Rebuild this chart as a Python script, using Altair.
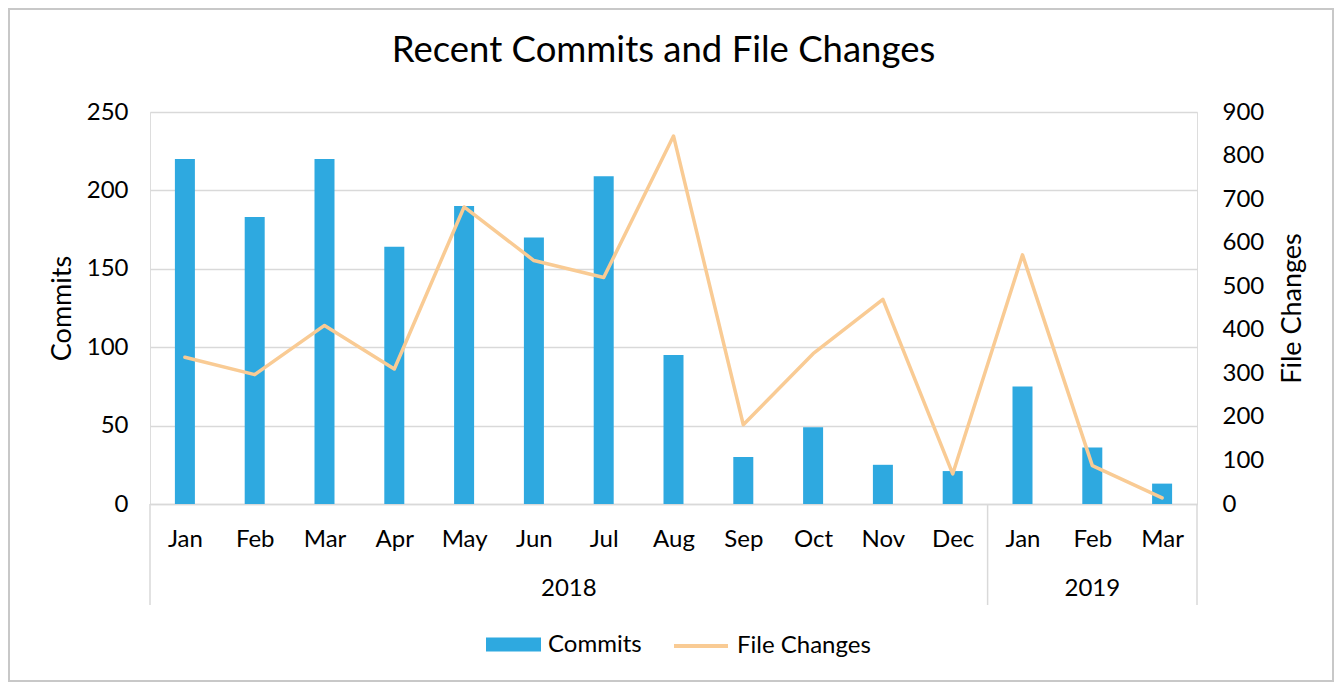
import altair as alt
import pandas as pd

# ---------------- data ----------------
months = ["Jan", "Feb", "Mar", "Apr", "May", "Jun", "Jul", "Aug", "Sep", "Oct", "Nov", "Dec", "Jan", "Feb", "Mar"]
years = ["2018"] * 12 + ["2019"] * 3
commits = [220, 183, 220, 164, 190, 170, 209, 95, 30, 49, 25, 21, 75, 36, 13]
file_changes = [337, 297, 410, 310, 682, 559, 520, 845, 182, 345, 470, 69, 572, 88, 14]
left_ticks = [0, 50, 100, 150, 200, 250]
right_ticks = [0, 100, 200, 300, 400, 500, 600, 700, 800, 900]

TITLE = "Recent Commits and File Changes"
FONT = "Lato"
BLUE = "#2EA9E0"
ORANGE = "#F9CB94"
GRID = "#D9D9D9"
FS = 24

idx = list(range(len(months)))
df = pd.DataFrame({
    "idx": idx,
    "month": months,
    "year": years,
    "Commits": commits,
    "File Changes": file_changes,
    "s1": ["Commits"] * len(months),
    "s2": ["File Changes"] * len(months),
})

# year label centres and group separators, derived from the data
yr = df.groupby("year")["idx"].agg(["min", "max", "mean"]).reset_index()
df_year = pd.DataFrame({"year": yr["year"], "idx": yr["mean"]})
seps = sorted(set([m - 0.5 for m in yr["min"]] + [m + 0.5 for m in yr["max"]]))
df_sep = pd.DataFrame({"idx": seps})

W, H = 1047, 392
label_expr = "[" + ",".join("'%s'" % m for m in months) + "][datum.value]"


def xenc():
    return alt.X(
        "idx:Q",
        scale=alt.Scale(domain=[-0.5, len(months) - 0.5], nice=False, zero=False, padding=0),
        axis=alt.Axis(
            values=idx, labelExpr=label_expr, grid=False, ticks=False,
            domain=True, domainColor=GRID, domainWidth=1.5,
            labelFont=FONT, labelFontSize=FS, labelColor="#000000",
            labelPadding=23, title=None, labelFlush=False,
        ),
    )


bars = alt.Chart(df).mark_bar(size=20).encode(
    x=xenc(),
    y=alt.Y(
        "Commits:Q",
        scale=alt.Scale(domain=[0, 250], nice=False),
        axis=alt.Axis(
            values=left_ticks, grid=True, gridColor=GRID, gridWidth=1.5,
            ticks=False, domain=False, labelFont=FONT, labelFontSize=FS,
            labelColor="#000000", labelPadding=22, title="Commits",
            titleFont=FONT, titleFontSize=27, titleFontWeight="normal",
            titleColor="#000000", titleX=-88, titleY=H / 2, titleAngle=270,
            titleAlign="center", titleBaseline="middle",
        ),
    ),
    fill=alt.Fill(
        "s1:N",
        scale=alt.Scale(domain=["Commits"], range=[BLUE]),
        legend=alt.Legend(
            title=None, orient="none", legendX=336, legendY=505,
            symbolType="M-1,-0.2545H1V0.2545H-1Z", symbolSize=3025,
            symbolStrokeWidth=0, symbolFillColor=BLUE, labelFont=FONT, labelFontSize=FS,
            labelColor="#000000", labelOffset=7,
        ),
    ),
)

line = alt.Chart(df).mark_line(strokeWidth=3.5, strokeCap="round", strokeJoin="round").encode(
    x=xenc(),
    y=alt.Y(
        "File Changes:Q",
        scale=alt.Scale(domain=[0, 900], nice=False),
        axis=alt.Axis(
            orient="right", values=right_ticks, grid=False, ticks=False,
            domain=False, labelFont=FONT, labelFontSize=FS, labelColor="#000000",
            labelPadding=25, title="File Changes", titleFont=FONT,
            titleFontSize=27, titleFontWeight="normal", titleColor="#000000",
            titleX=95, titleY=H / 2, titleAngle=270, titleAlign="center",
            titleBaseline="middle",
        ),
    ),
    stroke=alt.Stroke(
        "s2:N",
        scale=alt.Scale(domain=["File Changes"], range=[ORANGE]),
        legend=alt.Legend(
            title=None, orient="none", legendX=522, legendY=505,
            symbolType="stroke", symbolSize=2916, symbolStrokeWidth=4,
            labelFont=FONT, labelFontSize=FS, labelColor="#000000", labelOffset=7,
        ),
    ),
)

year_text = alt.Chart(df_year).mark_text(
    font=FONT, fontSize=FS, color="#000000", baseline="middle", align="center"
).encode(
    x=xenc(),
    y=alt.value(477),
    text="year:N",
)

separators = alt.Chart(df_sep).mark_rule(color=GRID, strokeWidth=1.5).encode(
    x=xenc(),
    y=alt.value(H),
    y2=alt.value(H + 101),
)

border = alt.Chart(pd.DataFrame({"k": [0]})).mark_rect(
    fill=None, stroke="#C8C8C8", strokeWidth=2
).encode(
    x=alt.value(-141), x2=alt.value(W + 136),
    y=alt.value(-103), y2=alt.value(H + 177),
)

title = alt.Chart(pd.DataFrame({"t": [TITLE]})).mark_text(
    font=FONT, fontSize=36.5, color="#000000", align="center", baseline="middle"
).encode(
    x=alt.value(513.5),
    y=alt.value(-61),
    text="t:N",
)

chart = (
    alt.layer(border, separators, bars, line, year_text, title)
    .resolve_scale(y="independent", fill="independent", stroke="independent")
    .properties(
        width=W, height=H,
        padding={"left": 142, "top": 104, "right": 137, "bottom": 178},
        autosize=alt.AutoSizeParams(type="none"),
    )
    .configure_view(stroke=None)
    .configure(background="white")
)

chart.save("out.html", embed_options={"renderer": "svg", "actions": False})
